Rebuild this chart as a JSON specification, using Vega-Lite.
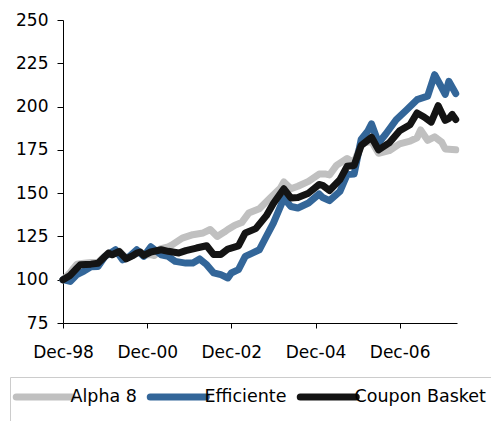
{
  "$schema": "https://vega.github.io/schema/vega-lite/v6.json",
  "width": 394,
  "height": 303,
  "autosize": {"type": "none"},
  "padding": {"left": 63, "top": 20, "right": 34, "bottom": 98},
  "background": "white",
  "config": {"view": {"stroke": null}, "font": "DejaVu Sans"},
  "data": {"values": [
    {"d":"1998-12-01","s":"Alpha 8","v":100},{"d":"1999-02-01","s":"Alpha 8","v":104},{"d":"1999-03-01","s":"Alpha 8","v":106.5},{"d":"1999-04-01","s":"Alpha 8","v":109},{"d":"1999-06-01","s":"Alpha 8","v":109.5},{"d":"1999-08-01","s":"Alpha 8","v":110},{"d":"1999-10-01","s":"Alpha 8","v":110},{"d":"1999-11-01","s":"Alpha 8","v":112},{"d":"2000-01-01","s":"Alpha 8","v":115.5},{"d":"2000-02-01","s":"Alpha 8","v":114.5},{"d":"2000-04-01","s":"Alpha 8","v":116.5},{"d":"2000-06-01","s":"Alpha 8","v":112.5},{"d":"2000-08-01","s":"Alpha 8","v":114},{"d":"2000-09-01","s":"Alpha 8","v":115.5},{"d":"2000-10-01","s":"Alpha 8","v":116},{"d":"2000-11-01","s":"Alpha 8","v":114},{"d":"2001-01-01","s":"Alpha 8","v":114.5},{"d":"2001-02-01","s":"Alpha 8","v":114},{"d":"2001-04-01","s":"Alpha 8","v":118},{"d":"2001-06-01","s":"Alpha 8","v":119},{"d":"2001-07-01","s":"Alpha 8","v":120},{"d":"2001-10-01","s":"Alpha 8","v":124},{"d":"2002-01-01","s":"Alpha 8","v":126},{"d":"2002-04-01","s":"Alpha 8","v":127},{"d":"2002-06-01","s":"Alpha 8","v":129},{"d":"2002-08-01","s":"Alpha 8","v":125},{"d":"2002-10-01","s":"Alpha 8","v":127.5},{"d":"2002-11-01","s":"Alpha 8","v":129},{"d":"2003-01-01","s":"Alpha 8","v":131.5},{"d":"2003-03-01","s":"Alpha 8","v":133},{"d":"2003-05-01","s":"Alpha 8","v":138.5},{"d":"2003-08-01","s":"Alpha 8","v":141},{"d":"2003-11-01","s":"Alpha 8","v":147},{"d":"2004-02-01","s":"Alpha 8","v":153},{"d":"2004-03-01","s":"Alpha 8","v":156.5},{"d":"2004-05-01","s":"Alpha 8","v":152.5},{"d":"2004-07-01","s":"Alpha 8","v":154},{"d":"2004-10-01","s":"Alpha 8","v":156.8},{"d":"2005-01-01","s":"Alpha 8","v":161},{"d":"2005-03-01","s":"Alpha 8","v":161},{"d":"2005-04-01","s":"Alpha 8","v":160.5},{"d":"2005-06-01","s":"Alpha 8","v":166},{"d":"2005-09-01","s":"Alpha 8","v":170},{"d":"2005-11-01","s":"Alpha 8","v":167.4},{"d":"2006-01-01","s":"Alpha 8","v":178.5},{"d":"2006-04-01","s":"Alpha 8","v":180},{"d":"2006-06-01","s":"Alpha 8","v":173},{"d":"2006-09-01","s":"Alpha 8","v":174.5},{"d":"2006-12-01","s":"Alpha 8","v":178.5},{"d":"2007-03-01","s":"Alpha 8","v":180},{"d":"2007-05-01","s":"Alpha 8","v":182},{"d":"2007-06-01","s":"Alpha 8","v":186.5},{"d":"2007-08-01","s":"Alpha 8","v":180.5},{"d":"2007-10-01","s":"Alpha 8","v":182.5},{"d":"2007-12-01","s":"Alpha 8","v":179.5},{"d":"2008-01-01","s":"Alpha 8","v":175.5},{"d":"2008-04-01","s":"Alpha 8","v":175},
    {"d":"1998-12-01","s":"Efficiente","v":100},{"d":"1999-02-01","s":"Efficiente","v":99},{"d":"1999-04-01","s":"Efficiente","v":103},{"d":"1999-06-01","s":"Efficiente","v":105},{"d":"1999-08-01","s":"Efficiente","v":107.5},{"d":"1999-10-01","s":"Efficiente","v":107.7},{"d":"1999-12-01","s":"Efficiente","v":113.5},{"d":"2000-03-01","s":"Efficiente","v":117.3},{"d":"2000-05-01","s":"Efficiente","v":111.5},{"d":"2000-07-01","s":"Efficiente","v":113.5},{"d":"2000-09-01","s":"Efficiente","v":117.3},{"d":"2000-11-01","s":"Efficiente","v":113.5},{"d":"2001-01-01","s":"Efficiente","v":119},{"d":"2001-04-01","s":"Efficiente","v":114.4},{"d":"2001-06-01","s":"Efficiente","v":113.5},{"d":"2001-08-01","s":"Efficiente","v":110.6},{"d":"2001-11-01","s":"Efficiente","v":109.6},{"d":"2002-01-01","s":"Efficiente","v":109.6},{"d":"2002-03-01","s":"Efficiente","v":112},{"d":"2002-05-01","s":"Efficiente","v":108.7},{"d":"2002-07-01","s":"Efficiente","v":103.9},{"d":"2002-09-01","s":"Efficiente","v":102.9},{"d":"2002-11-01","s":"Efficiente","v":101},{"d":"2002-12-01","s":"Efficiente","v":103.9},{"d":"2003-02-01","s":"Efficiente","v":105.8},{"d":"2003-04-01","s":"Efficiente","v":113.5},{"d":"2003-06-01","s":"Efficiente","v":115.4},{"d":"2003-08-01","s":"Efficiente","v":117.3},{"d":"2003-10-01","s":"Efficiente","v":125},{"d":"2003-12-01","s":"Efficiente","v":132.7},{"d":"2004-03-01","s":"Efficiente","v":147},{"d":"2004-05-01","s":"Efficiente","v":142.3},{"d":"2004-07-01","s":"Efficiente","v":141.4},{"d":"2004-10-01","s":"Efficiente","v":144.3},{"d":"2005-01-01","s":"Efficiente","v":149.5},{"d":"2005-02-01","s":"Efficiente","v":147.5},{"d":"2005-04-01","s":"Efficiente","v":145.7},{"d":"2005-07-01","s":"Efficiente","v":151},{"d":"2005-09-01","s":"Efficiente","v":160.7},{"d":"2005-11-01","s":"Efficiente","v":161},{"d":"2006-01-01","s":"Efficiente","v":181},{"d":"2006-03-01","s":"Efficiente","v":186},{"d":"2006-04-01","s":"Efficiente","v":190},{"d":"2006-06-01","s":"Efficiente","v":179},{"d":"2006-08-01","s":"Efficiente","v":184},{"d":"2006-11-01","s":"Efficiente","v":192.4},{"d":"2007-02-01","s":"Efficiente","v":198.2},{"d":"2007-05-01","s":"Efficiente","v":204},{"d":"2007-08-01","s":"Efficiente","v":206},{"d":"2007-10-01","s":"Efficiente","v":218.4},{"d":"2007-12-01","s":"Efficiente","v":211},{"d":"2008-01-01","s":"Efficiente","v":207},{"d":"2008-02-01","s":"Efficiente","v":214.6},{"d":"2008-04-01","s":"Efficiente","v":207.5},
    {"d":"1998-12-01","s":"Coupon Basket","v":100},{"d":"1999-02-01","s":"Coupon Basket","v":102.5},{"d":"1999-04-01","s":"Coupon Basket","v":106.7},{"d":"1999-05-01","s":"Coupon Basket","v":108.7},{"d":"1999-08-01","s":"Coupon Basket","v":109},{"d":"1999-10-01","s":"Coupon Basket","v":109.5},{"d":"1999-11-01","s":"Coupon Basket","v":111.5},{"d":"2000-01-01","s":"Coupon Basket","v":115.4},{"d":"2000-02-01","s":"Coupon Basket","v":114.4},{"d":"2000-04-01","s":"Coupon Basket","v":116.3},{"d":"2000-06-01","s":"Coupon Basket","v":112},{"d":"2000-08-01","s":"Coupon Basket","v":114},{"d":"2000-09-01","s":"Coupon Basket","v":115.4},{"d":"2000-10-01","s":"Coupon Basket","v":116},{"d":"2000-11-01","s":"Coupon Basket","v":114},{"d":"2001-01-01","s":"Coupon Basket","v":116},{"d":"2001-04-01","s":"Coupon Basket","v":117.3},{"d":"2001-06-01","s":"Coupon Basket","v":116.4},{"d":"2001-09-01","s":"Coupon Basket","v":115.4},{"d":"2001-11-01","s":"Coupon Basket","v":116.8},{"d":"2002-02-01","s":"Coupon Basket","v":118.3},{"d":"2002-05-01","s":"Coupon Basket","v":119.6},{"d":"2002-07-01","s":"Coupon Basket","v":114.5},{"d":"2002-09-01","s":"Coupon Basket","v":114.5},{"d":"2002-11-01","s":"Coupon Basket","v":117.7},{"d":"2003-02-01","s":"Coupon Basket","v":119.5},{"d":"2003-04-01","s":"Coupon Basket","v":127},{"d":"2003-07-01","s":"Coupon Basket","v":129.5},{"d":"2003-10-01","s":"Coupon Basket","v":137},{"d":"2003-12-01","s":"Coupon Basket","v":144},{"d":"2004-03-01","s":"Coupon Basket","v":152.5},{"d":"2004-05-01","s":"Coupon Basket","v":147.2},{"d":"2004-07-01","s":"Coupon Basket","v":147.5},{"d":"2004-10-01","s":"Coupon Basket","v":150},{"d":"2005-01-01","s":"Coupon Basket","v":155},{"d":"2005-02-01","s":"Coupon Basket","v":154.5},{"d":"2005-04-01","s":"Coupon Basket","v":151.5},{"d":"2005-07-01","s":"Coupon Basket","v":157.8},{"d":"2005-09-01","s":"Coupon Basket","v":165.5},{"d":"2005-11-01","s":"Coupon Basket","v":166},{"d":"2006-01-01","s":"Coupon Basket","v":177.5},{"d":"2006-04-01","s":"Coupon Basket","v":182.3},{"d":"2006-06-01","s":"Coupon Basket","v":175},{"d":"2006-09-01","s":"Coupon Basket","v":179},{"d":"2006-12-01","s":"Coupon Basket","v":186},{"d":"2007-03-01","s":"Coupon Basket","v":189.5},{"d":"2007-05-01","s":"Coupon Basket","v":196.3},{"d":"2007-07-01","s":"Coupon Basket","v":194},{"d":"2007-09-01","s":"Coupon Basket","v":191},{"d":"2007-11-01","s":"Coupon Basket","v":200.5},{"d":"2007-12-01","s":"Coupon Basket","v":196.3},{"d":"2008-01-01","s":"Coupon Basket","v":192},{"d":"2008-02-01","s":"Coupon Basket","v":193},{"d":"2008-03-01","s":"Coupon Basket","v":195.5},{"d":"2008-04-01","s":"Coupon Basket","v":192.5}
  ]},
  "mark": {"type": "line", "strokeWidth": 7, "strokeJoin": "round", "strokeCap": "round"},
  "encoding": {
    "x": {
      "field": "d", "type": "temporal",
      "scale": {"type": "utc", "domain": [{"year": 1998, "month": 12, "date": 1, "utc": true}, {"year": 2008, "month": 4, "date": 12, "utc": true}]},
      "axis": {
        "title": null, "grid": false,
        "values": [{"year": 1998, "month": 12, "date": 1, "utc": true}, {"year": 2000, "month": 12, "date": 1, "utc": true}, {"year": 2002, "month": 12, "date": 1, "utc": true}, {"year": 2004, "month": 12, "date": 1, "utc": true}, {"year": 2006, "month": 12, "date": 1, "utc": true}],
        "labelExpr": "utcFormat(datum.value, '%b-%y')",
        "tickSize": 5, "tickColor": "#000", "domainColor": "#000", "domainWidth": 1, "tickWidth": 1,
        "labelFontSize": 17, "labelColor": "#000", "labelPadding": 16, "labelFlush": false, "labelOverlap": false
      }
    },
    "y": {
      "field": "v", "type": "quantitative",
      "scale": {"domain": [75, 250], "nice": false, "zero": false},
      "axis": {
        "title": null, "grid": false,
        "values": [75, 100, 125, 150, 175, 200, 225, 250],
        "tickSize": 6, "tickColor": "#000", "domainColor": "#000", "domainWidth": 1, "tickWidth": 1,
        "labelFontSize": 17, "labelColor": "#000", "labelPadding": 9
      }
    },
    "color": {
      "field": "s", "type": "nominal",
      "scale": {"domain": ["Alpha 8", "Efficiente", "Coupon Basket"], "range": ["#C0C0C0", "#336699", "#141414"]},
      "legend": {
        "title": null, "orient": "none", "direction": "horizontal",
        "legendX": -53, "legendY": 357,
        "symbolType": "M-2.7,0H8.5", "symbolSize": 100, "symbolStrokeWidth": 7,
        "labelFontSize": 17.5, "labelColor": "#000", "labelOffset": 32,
        "columnPadding": -1, "padding": 11,
        "fillColor": "white", "strokeColor": "#cccccc",
        "encode": {"symbols": {"update": {"strokeCap": {"value": "round"}}}}
      }
    }
  }
}
